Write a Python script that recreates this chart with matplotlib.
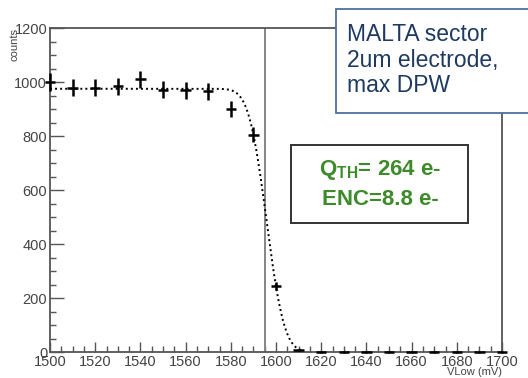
import numpy as np
import matplotlib
matplotlib.use('Agg')
import matplotlib.pyplot as plt
from matplotlib.patches import Rectangle
from matplotlib.ticker import MultipleLocator
from math import erfc

# scan points (VLow in mV) and measured counts
vlow = [1500, 1510, 1520, 1530, 1540, 1550, 1560, 1570, 1580, 1590,
        1600, 1610, 1620, 1630, 1640, 1650, 1660, 1670, 1680, 1690, 1700]
counts = [1000, 978, 978, 985, 1010, 972, 970, 965, 900, 805,
          245, 8, 0, 0, 0, 0, 0, 0, 0, 0, 0]

# s-curve fit parameters
fit_amp = 975.
fit_mu = 1595.8
fit_sigma = 6.2
fit_range = (1500, 1612)
vline_x = 1595

box1_text = 'MALTA sector\n2um electrode,\nmax DPW'
box2_text = r'$\mathbf{Q_{TH}}$= 264 e-' + '\nENC=8.8 e-'

W, H = 528, 378
axis_color = '#555555'
font = 'Liberation Sans'
plt.rcParams['font.family'] = [font, 'DejaVu Sans']
plt.rcParams['mathtext.fontset'] = 'custom'
plt.rcParams['mathtext.bf'] = font + ':bold'
plt.rcParams['mathtext.rm'] = font

fig = plt.figure(figsize=(W/100, H/100), dpi=100)
ax = fig.add_axes([50/W, 26/H, 452/W, 324/H])

x = np.array(vlow, dtype=float)
y = np.array(counts, dtype=float)
ax.errorbar(x, y, xerr=2.3, yerr=np.maximum(np.sqrt(y), 3), fmt='none', ecolor='black',
            elinewidth=1.8, capsize=0, zorder=4, clip_on=False)

xf = np.linspace(fit_range[0], fit_range[1], 400)
yf = [0.5 * fit_amp * erfc((v - fit_mu) / (np.sqrt(2) * fit_sigma)) for v in xf]
ax.plot(xf, yf, color='black', lw=1.4, ls=(0, (1, 1.6)), zorder=3)

ax.axvline(vline_x, color='#858585', lw=1.4, zorder=2)

ax.set_xlim(1500, 1700)
ax.set_ylim(0, 1200)
ax.xaxis.set_major_locator(MultipleLocator(20))
ax.xaxis.set_minor_locator(MultipleLocator(5))
ax.yaxis.set_major_locator(MultipleLocator(200))
ax.yaxis.set_minor_locator(MultipleLocator(50))
ax.tick_params(axis='both', which='major', direction='in', length=7, width=1,
               color=axis_color, labelcolor='#444444', labelsize=10.5, pad=2)
ax.tick_params(axis='both', which='minor', direction='in', length=4, width=1,
               color=axis_color)
ax.tick_params(axis='y', which='major', length=10)
for sp in ax.spines.values():
    sp.set_color(axis_color)
    sp.set_linewidth(1.3)

fig.text(15/W, 1 - 28/H, 'counts', rotation=90, ha='center', va='top',
         fontsize=8, color='#444444')
fig.text(502/W, 1 - 377/H, 'VLow (mV)', ha='right', va='bottom',
         fontsize=8, color='#444444')

# text boxes, in figure pixels
fig.patches.append(Rectangle((336/W, 1 - 113/H), 200/W, 104/H, transform=fig.transFigure,
                             fc='white', ec='#4f6f9f', lw=1.3, zorder=5))
fig.text(347/W, 1 - 60/H, box1_text, ha='left', va='center', fontsize=16.5,
         color='#1f3a60', linespacing=1.12, zorder=6)

fig.patches.append(Rectangle((291/W, 1 - 223/H), 177/W, 78/H, transform=fig.transFigure,
                             fc='white', ec='#333333', lw=1.4, zorder=5))
fig.text(380/W, 1 - 184/H, box2_text, ha='center', va='center', fontsize=16,
         fontweight='bold', color='#3d8b2a', linespacing=1.45, zorder=6)

fig.savefig('out.png', dpi=100)
